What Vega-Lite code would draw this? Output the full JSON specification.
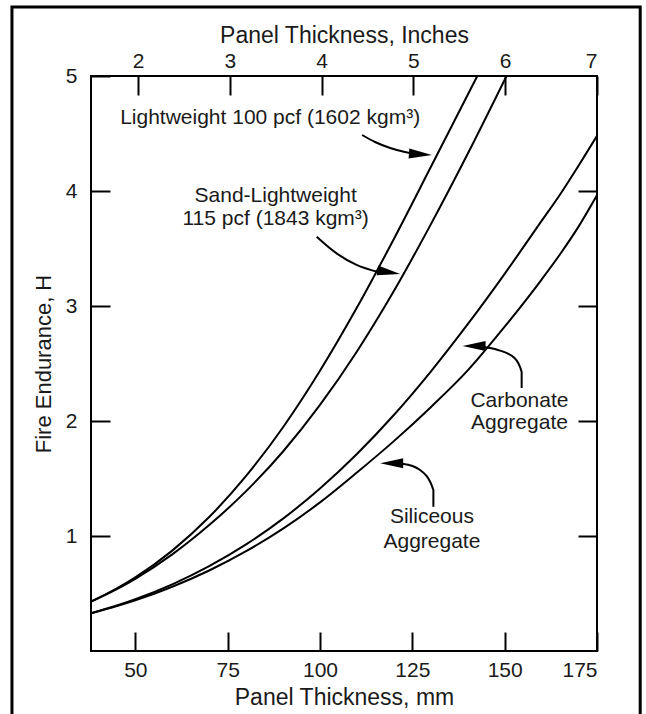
{
  "$schema": "https://vega.github.io/schema/vega-lite/v6.json",
  "autosize": "none",
  "padding": {"left": 91, "top": 76, "right": 49, "bottom": 63},
  "width": 506,
  "height": 575,
  "background": "white",
  "config": {
    "font": "Liberation Sans",
    "view": {"stroke": "black", "strokeWidth": 2},
    "axis": {
      "labelFont": "Liberation Sans",
      "titleFont": "Liberation Sans",
      "labelFontSize": 21,
      "titleFontSize": 23,
      "titleFontWeight": "normal",
      "labelColor": "#1a1a1a",
      "titleColor": "#1a1a1a",
      "tickColor": "black",
      "tickWidth": 2,
      "tickSize": -19,
      "domain": false,
      "grid": false
    }
  },
  "datasets": {
    "curves": [
      {"series": "LW100", "mm": 38, "H": 0.429},
      {"series": "LW100", "mm": 45, "H": 0.544},
      {"series": "LW100", "mm": 50, "H": 0.64},
      {"series": "LW100", "mm": 60, "H": 0.873},
      {"series": "LW100", "mm": 70, "H": 1.165},
      {"series": "LW100", "mm": 80, "H": 1.522},
      {"series": "LW100", "mm": 90, "H": 1.946},
      {"series": "LW100", "mm": 100, "H": 2.437},
      {"series": "LW100", "mm": 110, "H": 2.986},
      {"series": "LW100", "mm": 120, "H": 3.583},
      {"series": "LW100", "mm": 130, "H": 4.208},
      {"series": "LW100", "mm": 140, "H": 4.837},
      {"series": "LW100", "mm": 142.6, "H": 5.0},
      {"series": "SLW115", "mm": 38, "H": 0.429},
      {"series": "SLW115", "mm": 45, "H": 0.538},
      {"series": "SLW115", "mm": 50, "H": 0.628},
      {"series": "SLW115", "mm": 60, "H": 0.84},
      {"series": "SLW115", "mm": 70, "H": 1.095},
      {"series": "SLW115", "mm": 80, "H": 1.39},
      {"series": "SLW115", "mm": 90, "H": 1.735},
      {"series": "SLW115", "mm": 100, "H": 2.14},
      {"series": "SLW115", "mm": 110, "H": 2.605},
      {"series": "SLW115", "mm": 120, "H": 3.13},
      {"series": "SLW115", "mm": 130, "H": 3.71},
      {"series": "SLW115", "mm": 140, "H": 4.324},
      {"series": "SLW115", "mm": 150.5, "H": 5.0},
      {"series": "Carbonate", "mm": 38, "H": 0.328},
      {"series": "Carbonate", "mm": 45, "H": 0.396},
      {"series": "Carbonate", "mm": 50, "H": 0.451},
      {"series": "Carbonate", "mm": 60, "H": 0.58},
      {"series": "Carbonate", "mm": 70, "H": 0.738},
      {"series": "Carbonate", "mm": 80, "H": 0.927},
      {"series": "Carbonate", "mm": 90, "H": 1.151},
      {"series": "Carbonate", "mm": 100, "H": 1.413},
      {"series": "Carbonate", "mm": 110, "H": 1.713},
      {"series": "Carbonate", "mm": 120, "H": 2.052},
      {"series": "Carbonate", "mm": 130, "H": 2.43},
      {"series": "Carbonate", "mm": 140, "H": 2.842},
      {"series": "Carbonate", "mm": 150, "H": 3.28},
      {"series": "Carbonate", "mm": 160, "H": 3.74},
      {"series": "Carbonate", "mm": 165, "H": 3.97},
      {"series": "Carbonate", "mm": 170, "H": 4.22},
      {"series": "Carbonate", "mm": 175, "H": 4.48},
      {"series": "Siliceous", "mm": 38, "H": 0.328},
      {"series": "Siliceous", "mm": 45, "H": 0.391},
      {"series": "Siliceous", "mm": 50, "H": 0.441},
      {"series": "Siliceous", "mm": 60, "H": 0.559},
      {"series": "Siliceous", "mm": 70, "H": 0.7},
      {"series": "Siliceous", "mm": 80, "H": 0.868},
      {"series": "Siliceous", "mm": 90, "H": 1.064},
      {"series": "Siliceous", "mm": 100, "H": 1.292},
      {"series": "Siliceous", "mm": 110, "H": 1.552},
      {"series": "Siliceous", "mm": 120, "H": 1.825},
      {"series": "Siliceous", "mm": 130, "H": 2.12},
      {"series": "Siliceous", "mm": 140, "H": 2.44},
      {"series": "Siliceous", "mm": 150, "H": 2.82},
      {"series": "Siliceous", "mm": 160, "H": 3.23},
      {"series": "Siliceous", "mm": 165, "H": 3.45},
      {"series": "Siliceous", "mm": 170, "H": 3.69},
      {"series": "Siliceous", "mm": 175, "H": 3.963}
    ],
    "arrows": [
      {"arrow": "a1", "k": 1, "mm": 111.4, "H": 4.487},
      {"arrow": "a1", "k": 2, "mm": 114.9, "H": 4.426},
      {"arrow": "a1", "k": 3, "mm": 119.0, "H": 4.374},
      {"arrow": "a1", "k": 4, "mm": 123.0, "H": 4.339},
      {"arrow": "a1", "k": 5, "mm": 126.5, "H": 4.317},
      {"arrow": "a2", "k": 1, "mm": 99.1, "H": 3.603},
      {"arrow": "a2", "k": 2, "mm": 104.5, "H": 3.458},
      {"arrow": "a2", "k": 3, "mm": 109.9, "H": 3.357},
      {"arrow": "a2", "k": 4, "mm": 115.7, "H": 3.296},
      {"arrow": "a3", "k": 1, "mm": 154.6, "H": 2.287},
      {"arrow": "a3", "k": 2, "mm": 154.6, "H": 2.426},
      {"arrow": "a3", "k": 3, "mm": 152.6, "H": 2.55},
      {"arrow": "a3", "k": 4, "mm": 148.0, "H": 2.62},
      {"arrow": "a3", "k": 5, "mm": 143.2, "H": 2.645},
      {"arrow": "a4", "k": 1, "mm": 130.7, "H": 1.255},
      {"arrow": "a4", "k": 2, "mm": 130.7, "H": 1.4},
      {"arrow": "a4", "k": 3, "mm": 127.1, "H": 1.574},
      {"arrow": "a4", "k": 4, "mm": 122.6, "H": 1.626},
      {"arrow": "a4", "k": 5, "mm": 120.3, "H": 1.63}
    ],
    "heads": [
      {"mm": 130.3, "H": 4.313, "angle": 4},
      {"mm": 121.7, "H": 3.278, "angle": 9},
      {"mm": 138.6, "H": 2.652, "angle": 180},
      {"mm": 116.3, "H": 1.632, "angle": 180}
    ],
    "labels": [
      {"mm": 86.5, "H": 4.635, "text": "Lightweight 100 pcf (1602 kgm³)"},
      {"mm": 88.0, "H": 3.957, "text": "Sand-Lightweight"},
      {"mm": 88.0, "H": 3.757, "text": "115 pcf (1843 kgm³)"},
      {"mm": 154.0, "H": 2.174, "text": "Carbonate"},
      {"mm": 154.0, "H": 1.983, "text": "Aggregate"},
      {"mm": 130.3, "H": 1.165, "text": "Siliceous"},
      {"mm": 130.3, "H": 0.948, "text": "Aggregate"}
    ],
    "frame": [
      {"mm": 16.6, "mm2": 186.7, "H": 5.6, "H2": -0.6}
    ],
    "inchaxis": [
      {"inch": 2, "H": 1},
      {"inch": 7, "H": 4}
    ]
  },
  "layer": [
    {
      "layer": [
        {
          "data": {"name": "frame"},
          "mark": {"type": "rect", "fill": null, "stroke": "black", "strokeWidth": 3, "clip": false},
          "encoding": {
            "x": {"field": "mm", "type": "quantitative", "scale": {"domain": [38, 175], "nice": false, "zero": false},
                  "axis": {"orient": "bottom", "values": [50, 75, 100, 125, 150, 175], "title": "Panel Thickness, mm", "labelPadding": 27, "titlePadding": 6}},
            "x2": {"field": "mm2"},
            "y": {"field": "H", "type": "quantitative", "scale": {"domain": [0, 5], "nice": false, "zero": false},
                  "axis": {"orient": "left", "values": [1, 2, 3, 4, 5], "format": "d", "title": "Fire Endurance, H", "titleFontSize": 22, "labelPadding": 33, "titlePadding": 10}},
            "y2": {"field": "H2"}
          }
        },
        {
          "data": {"name": "curves"},
          "mark": {"type": "line", "color": "black", "strokeWidth": 2, "interpolate": "monotone", "clip": true},
          "encoding": {
            "x": {"field": "mm", "type": "quantitative"},
            "y": {"field": "H", "type": "quantitative"},
            "detail": {"field": "series"},
            "order": {"field": "mm"}
          }
        },
        {
          "data": {"name": "arrows"},
          "mark": {"type": "line", "color": "black", "strokeWidth": 2, "interpolate": "monotone"},
          "encoding": {
            "x": {"field": "mm", "type": "quantitative"},
            "y": {"field": "H", "type": "quantitative"},
            "detail": {"field": "arrow"},
            "order": {"field": "k"}
          }
        },
        {
          "data": {"name": "heads"},
          "mark": {"type": "point", "shape": "M0,0L-2.3,-0.5L-2.3,0.5Z", "filled": true, "color": "black", "opacity": 1, "size": 400, "strokeWidth": 0},
          "encoding": {
            "x": {"field": "mm", "type": "quantitative"},
            "y": {"field": "H", "type": "quantitative"},
            "angle": {"field": "angle", "type": "quantitative", "scale": null}
          }
        },
        {
          "data": {"name": "labels"},
          "mark": {"type": "text", "font": "Liberation Sans", "fontSize": 21, "color": "#1a1a1a", "align": "center", "baseline": "middle"},
          "encoding": {
            "x": {"field": "mm", "type": "quantitative"},
            "y": {"field": "H", "type": "quantitative"},
            "text": {"field": "text"}
          }
        }
      ]
    },
    {
      "data": {"name": "inchaxis"},
      "mark": {"type": "point", "opacity": 0},
      "encoding": {
        "x": {"field": "inch", "type": "quantitative", "scale": {"domain": [1.488, 7], "nice": false, "zero": false},
              "axis": {"orient": "top", "values": [2, 3, 4, 5, 6, 7], "title": "Panel Thickness, Inches", "labelPadding": 24, "titlePadding": 3}},
        "y": {"field": "H", "type": "quantitative",
              "axis": {"orient": "right", "values": [1, 2, 3, 4], "labels": false, "title": null}}
      }
    }
  ],
  "resolve": {"scale": {"x": "independent"}, "axis": {"x": "independent", "y": "independent"}}
}
